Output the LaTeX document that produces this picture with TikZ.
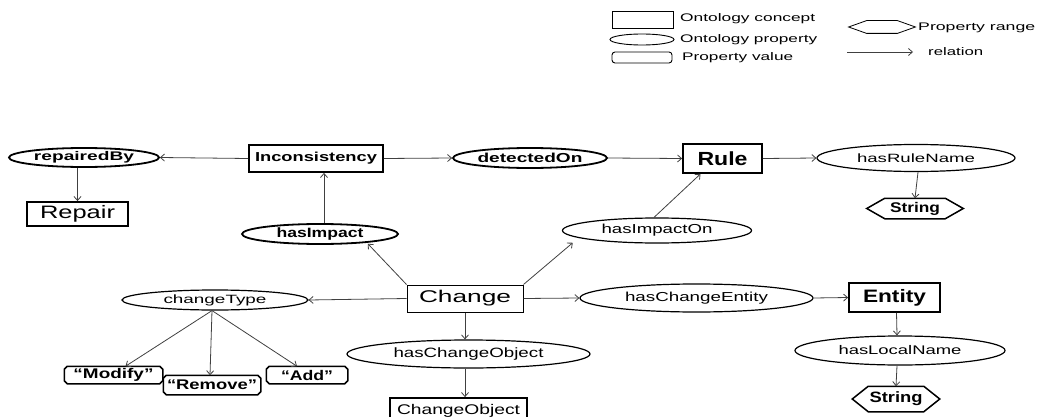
\documentclass[tikz,border=0pt]{standalone}
\usepackage{fontspec}
\setmainfont{Liberation Sans}
\usepackage{graphicx}
\usetikzlibrary{shapes.geometric,arrows.meta}
\newcommand{\fitw}[2]{\resizebox{#1pt}{\height}{#2}}
\newcommand{\fs}[1]{\fontsize{#1}{#1}\selectfont}
\begin{document}
\begin{tikzpicture}[x=1pt,y=-1pt,
  conn/.style={draw=black!75, line width=0.8pt, -{Straight Barb[length=4pt,width=7pt]}},
  concept/.style={rectangle, draw, line width=1.8pt, inner sep=0pt},
  thinconcept/.style={rectangle, draw, line width=1pt, inner sep=0pt},
  prop/.style={ellipse, draw, line width=1.2pt, inner sep=0pt},
  bprop/.style={ellipse, draw, line width=1.8pt, inner sep=0pt},
  hexa/.style={rectangle, inner sep=0pt, append after command={
    ([xshift=#1]\tikzlastnode.north west) -- ([xshift=-#1]\tikzlastnode.north east) -- (\tikzlastnode.east)
    -- ([xshift=-#1]\tikzlastnode.south east) -- ([xshift=#1]\tikzlastnode.south west) -- (\tikzlastnode.west) -- cycle}},
  octa/.style={rectangle, inner sep=0pt, append after command={
    ([xshift=#1]\tikzlastnode.north west) -- ([xshift=-#1]\tikzlastnode.north east) -- ([yshift=-#1]\tikzlastnode.north east)
    -- ([yshift=#1]\tikzlastnode.south east) -- ([xshift=-#1]\tikzlastnode.south east) -- ([xshift=#1]\tikzlastnode.south west)
    -- ([yshift=#1]\tikzlastnode.south west) -- ([yshift=-#1]\tikzlastnode.north west) -- cycle}},
  lbl/.style={anchor=west, inner sep=0pt}
]
\useasboundingbox (0,0) rectangle (1040,417);

% ---------- legend ----------
\node[rectangle, draw, line width=0.9pt, minimum width=61pt, minimum height=17pt] (lrect) at (642.5,19.5) {};
\node[ellipse, draw, line width=0.9pt, minimum width=64pt, minimum height=11pt, inner sep=0pt] (lell) at (642,39.5) {};
\node[rectangle, draw, rounded corners=3pt, line width=0.9pt, minimum width=60pt, minimum height=11pt, inner sep=0pt] (lval) at (642,57.5) {};
\draw[line width=0.8pt] (882,27) node[hexa=18pt, minimum width=66pt, minimum height=12pt] (lhex) {};
\coordinate (la1) at (847,52);
\coordinate (la2) at (913,52);
\draw[conn] (la1) -- (la2);
\node[lbl] (t1) at (680,18.5) {\fs{11}\fitw{135}{Ontology concept}};
\node[lbl] (t2) at (680,39.5) {\fs{11}\fitw{137}{Ontology property}};
\node[lbl] (t3) at (682,57.5) {\fs{11}\fitw{111}{Property value}};
\node[lbl] (t4) at (918,27.5) {\fs{11}\fitw{117}{Property range}};
\node[lbl] (t5) at (928,52) {\fs{11}\fitw{55}{relation}};

% ---------- main nodes ----------
\node[bprop, minimum width=150pt, minimum height=19pt] (rb) at (84,157.5) {\fs{12.5}\bfseries\fitw{100}{repairedBy}};
\node[concept, minimum width=101pt, minimum height=24pt] (rep) at (77.5,214) {\fs{18}\fitw{75}{Repair}};
\node[concept, minimum width=134pt, minimum height=27pt] (inc) at (316,158.5) {\fs{13}\bfseries\fitw{122}{Inconsistency}};
\node[bprop, minimum width=154pt, minimum height=20pt] (det) at (530,158) {\fs{13}\bfseries\fitw{105}{detectedOn}};
\node[concept, minimum width=79pt, minimum height=29pt] (rule) at (722.5,158.5) {\fs{19}\bfseries\fitw{50}{Rule}};
\node[prop, minimum width=198pt, minimum height=27pt] (rn) at (916,158) {\fs{12}\fitw{118}{hasRuleName}};
\draw[line width=1.5pt] (915,208.5) node[hexa=18pt, minimum width=95pt, minimum height=19pt] (s1) {\fs{14}\bfseries\fitw{50}{String}};
\node[bprop, minimum width=156pt, minimum height=20pt] (hi) at (320,234) {\fs{13.5}\bfseries\fitw{87}{hasImpact}};
\node[prop, minimum width=189pt, minimum height=25pt] (hio) at (657,230.5) {\fs{13}\fitw{111}{hasImpactOn}};
\node[thinconcept, minimum width=116pt, minimum height=27pt] (ch) at (465,298.5) {\fs{17}\fitw{92}{Change}};
\node[prop, minimum width=186pt, minimum height=20pt] (ct) at (215,300) {\fs{12}\fitw{103}{changeType}};
\node[prop, minimum width=233pt, minimum height=28pt] (hce) at (696.5,298) {\fs{13}\fitw{143}{hasChangeEntity}};
\node[concept, minimum width=91pt, minimum height=29pt] (ent) at (894.5,297.5) {\fs{18}\bfseries\fitw{63}{Entity}};
\node[prop, minimum width=243pt, minimum height=28pt] (hco) at (468.5,354) {\fs{13.5}\fitw{150}{hasChangeObject}};
\node[concept, minimum width=137pt, minimum height=26pt] (co) at (458.5,411) {\fs{14}\fitw{123}{ChangeObject}};
\node[prop, minimum width=210pt, minimum height=29pt] (hln) at (900,350.5) {\fs{12.5}\fitw{123}{hasLocalName}};
\draw[line width=1.5pt] (896,399) node[hexa=16pt, minimum width=86pt, minimum height=24pt] (s2) {\fs{15}\bfseries\fitw{53}{String}};
\draw[line width=1.5pt] (113.5,375) node[octa=3pt, minimum width=97pt, minimum height=16pt] (mod) {\fs{14}\bfseries\fitw{80}{“Modify”}};
\draw[line width=1.5pt] (212,385) node[octa=3pt, minimum width=96pt, minimum height=18pt] (rem) {\fs{14}\bfseries\fitw{90}{“Remove”}};
\draw[line width=1.5pt] (307,375) node[octa=3pt, minimum width=80pt, minimum height=16pt] (add) {\fs{14}\bfseries\fitw{52}{“Add”}};

% ---------- connectors ----------
\draw[conn] (inc.west) -- (rb.east);
\draw[conn] (rep.north |- rb.south) -- (rep.north);
\draw[conn] (inc.east) -- (det.west);
\draw[conn] (det.east) -- (rule.west);
\draw[conn] (rule.east) -- (rn.west);
\draw[conn] ([xshift=2pt]rn.south) -- (s1.north);
\draw[conn] ([xshift=4pt]hi.north) -- ([xshift=4pt]hi.north |- inc.south);
\draw[conn] (ch.north west) -- ([xshift=-8pt,yshift=-2pt]hi.south east);
\draw[conn] (ch.north east) -- ([xshift=-17pt,yshift=-3pt]hio.south west);
\draw[conn] ([xshift=-3pt]hio.north) -- ([xshift=-22pt]rule.south);
\draw[conn] (ch.west) -- (ct.east);
\draw[conn] (ch.east) -- (hce.west);
\draw[conn] (hce.east) -- (ent.west);
\draw[conn] ([xshift=2pt]ent.south) -- ([xshift=-3pt]hln.north);
\draw[conn] ([xshift=-3pt]hln.south) -- (s2.north);
\draw[conn] (ch.south) -- (ch.south |- hco.north);
\draw[conn] (ch.south |- hco.south) -- (ch.south |- co.north);
\draw[conn] ([xshift=-3pt]ct.south) -- ([xshift=12pt]mod.north);
\draw[conn] ([xshift=-3pt]ct.south) -- ([xshift=-2pt]rem.north);
\draw[conn] ([xshift=-3pt]ct.south) -- ([xshift=-10pt]add.north);
\end{tikzpicture}
\end{document}
